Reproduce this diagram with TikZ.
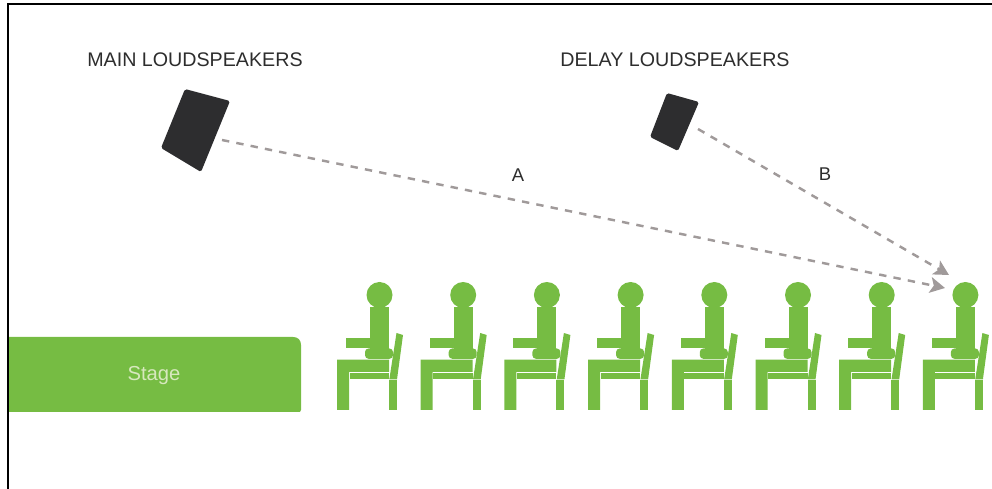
\documentclass[tikz,border=0pt]{standalone}
\usepackage{fontspec}
\setmainfont{Liberation Sans}
\usepackage{xcolor}
\definecolor{colSeat}{RGB}{118, 188, 67}
\definecolor{colSpeaker}{RGB}{45, 45, 47}
\definecolor{colDash}{RGB}{160, 154, 154}
\definecolor{darkText}{RGB}{45, 45, 45}
\definecolor{stageText}{RGB}{215, 232, 190}
\usetikzlibrary{arrows.meta}

\begin{document}
\begin{tikzpicture}[x=0.02cm, y=-0.02cm, >={Stealth[length=8.5pt, width=9pt, inset=2pt]}]

  % Page size and frame
  \useasboundingbox (0,0) rectangle (992,489);
  \draw[black, line width=0.8pt] (8,489) -- (8,4) -- (992,4);

  \tikzset{
    caption/.style={font=\fontsize{11.2}{14}\selectfont, text=darkText},
    path label/.style={font=\fontsize{10.5}{14}\selectfont, text=darkText},
    sound/.style={colDash, line width=1.4pt, dash pattern=on 4.2pt off 4.1pt, ->},
    seat/.style={fill=colSeat, draw=none}
  }

  % Loudspeakers
  \fill[colSpeaker, rounded corners=1pt] (185,89) -- (230,101) -- (201,172) -- (161,148) -- cycle;
  \fill[colSpeaker, rounded corners=1pt] (667,93) -- (699,102) -- (678,151) -- (650,137) -- cycle;

  \node[caption] (mainLabel) at (195,60) {MAIN LOUDSPEAKERS};
  \node[caption] (delayLabel) at (675,60) {DELAY LOUDSPEAKERS};

  % Stage, only the right corners are rounded
  \fill[colSeat] (9,412) -- (9,337) -- (293,337) .. controls (298,337) and (301,340) .. (301,345)
    -- (301,410) -- (300,412) -- cycle;
  \node[font=\fontsize{11.5}{14}\selectfont, text=stageText] (stage) at (154,376) {Stage};

  % Row of 8 seated people, x is the centre of the head
  \foreach \i in {0,...,7} {
    \begin{scope}[xshift={\i*83.7*0.02cm}]
      \fill[seat] (379.5,295) circle (13);
      \fill[seat] (370,307) -- (389,307) -- (389,349) -- (370,349) -- cycle;
      \fill[seat] (346,337.7) rectangle (380,347.7);
      \fill[seat, rounded corners=2pt] (365,348.5) rectangle (393,358.8);
      % thigh, front leg and seat bar
      \fill[seat] (337,359.6) -- (389,359.6) -- (389,372) -- (349,372) -- (349,410) -- (337,410) -- cycle;
      \fill[seat] (349.5,372.7) rectangle (389,379.5);
      % chair back
      \fill[seat] (396.5,333) -- (403,335) -- (397,379.5) -- (389.3,379.5) -- cycle;
      \fill[seat] (389,380) rectangle (397,410);
    \end{scope}
  }

  % Sound paths
  \coordinate (mainOut) at (222,140);
  \coordinate (delayOut) at (698,129);
  \coordinate (listenerA) at (945,288);
  \coordinate (listenerB) at (949,275);
  \draw[sound] (mainOut) -- (listenerA);
  \draw[sound] (delayOut) -- (listenerB);

  \node[path label] (labelA) at (518,175) {A};
  \node[path label] (labelB) at (825,174) {B};

\end{tikzpicture}
\end{document}
